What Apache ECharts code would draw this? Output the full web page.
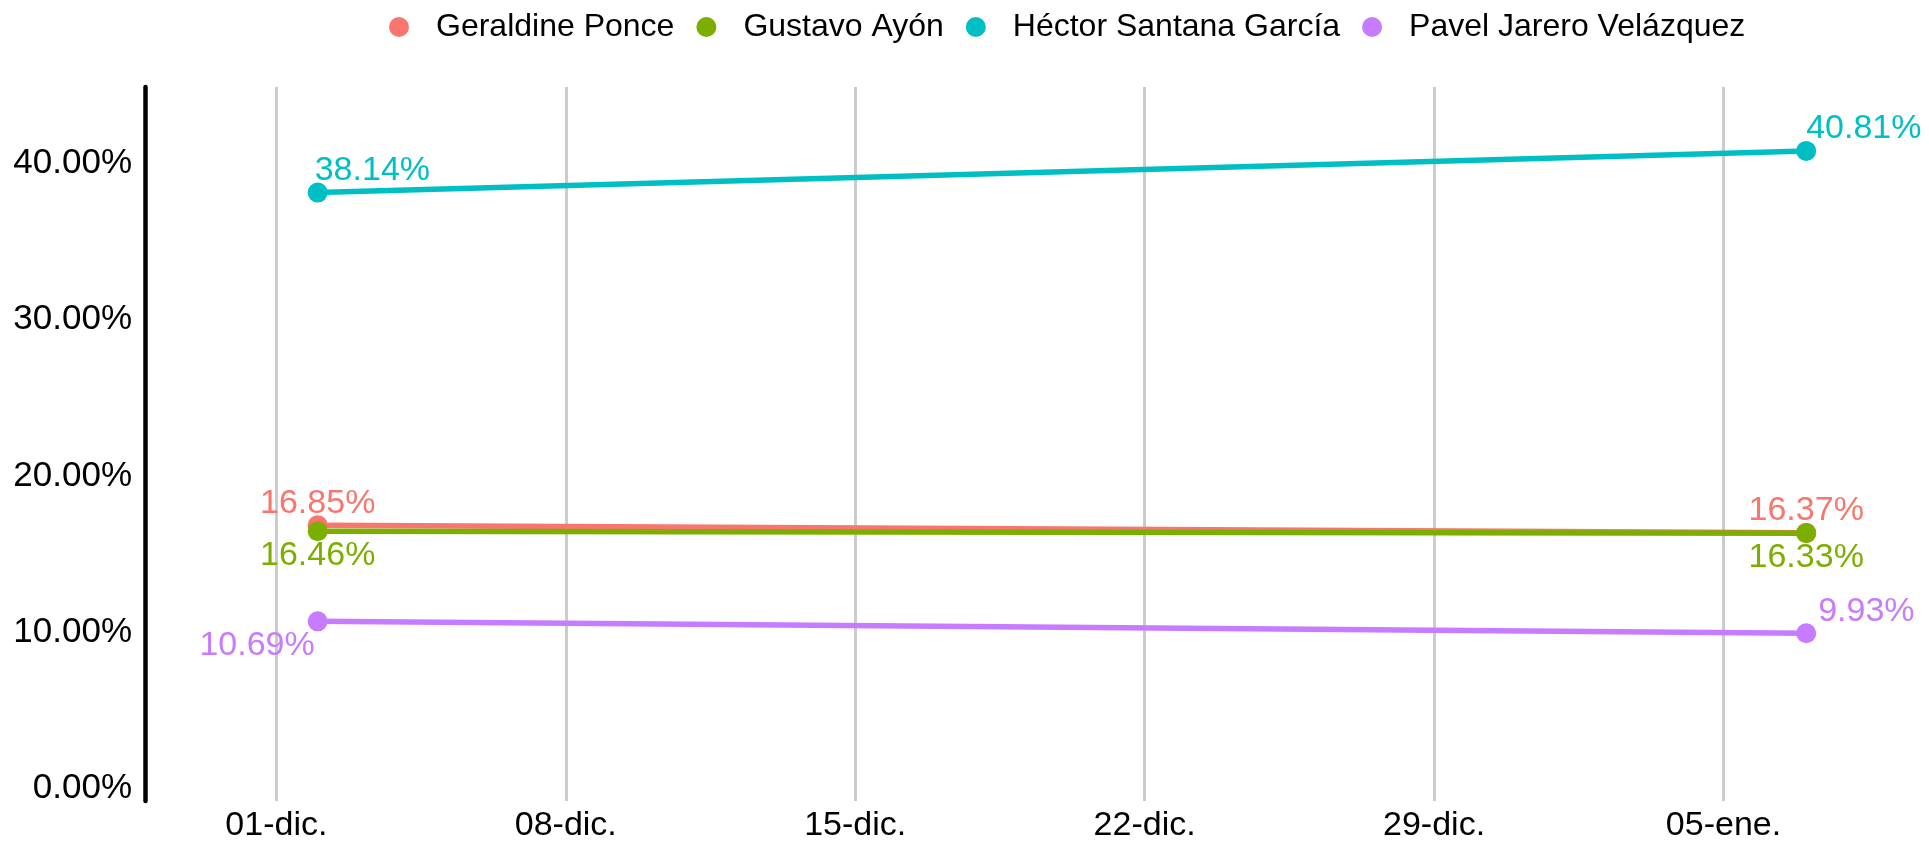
<!DOCTYPE html>
<html>
<head>
<meta charset="utf-8">
<script src="https://cdn.jsdelivr.net/npm/echarts@6/dist/echarts.min.js"></script>
<style>
html, body { margin: 0; padding: 0; background: #ffffff; }
#chart { width: 1929px; height: 843px; }
</style>
</head>
<body>
<div id="chart"></div>
<script>
// ---- data ----
const fechas = ['2022-12-02', '2023-01-07'];
const seriesNames = ['Geraldine Ponce', 'Gustavo Ayón', 'Héctor Santana García', 'Pavel Jarero Velázquez'];
const geraldine = [16.85, 16.37];
const gustavo = [16.46, 16.33];
const hector = [38.14, 40.81];
const pavel = [10.69, 9.93];
const yTicks = [0, 10, 20, 30, 40];
const mesesAbr = ['ene.', 'feb.', 'mar.', 'abr.', 'may.', 'jun.', 'jul.', 'ago.', 'sept.', 'oct.', 'nov.', 'dic.'];

// ---- styles ----
const FONT = "'Liberation Sans', Arial, Helvetica, sans-serif";
const colors = ['#F8766D', '#7CAE00', '#00BFC4', '#C77CFF'];
const DAY = 86400000;
const WEEK = 7 * DAY;
// label placement per series / point: [align, dx, dy]
const labelPlace = [
  [['center', 0, -22], ['center', 0, -22]],
  [['center', 0, 24], ['center', 0, 24]],
  [['left', -3, -22], ['left', 0, -22]],
  [['right', -3, 24], ['left', 12, -22]]
];

const ts = fechas.map(d => Date.parse(d + 'T00:00:00Z'));
const xMin = ts[0] - 4.177 * DAY;
const xMax = ts[0] + 38.97 * DAY;

const values = [geraldine, gustavo, hector, pavel];

const series = values.map((vals, si) => ({
  name: seriesNames[si],
  type: 'line',
  data: vals.map((v, i) => ({
    value: [ts[i], v],
    label: {
      show: true,
      position: 'inside',
      align: labelPlace[si][i][0],
      offset: [labelPlace[si][i][1], labelPlace[si][i][2]],
      verticalAlign: 'middle'
    }
  })),
  symbol: 'circle',
  symbolSize: 20,
  showSymbol: true,
  clip: false,
  lineStyle: { width: 5.5, color: colors[si] },
  itemStyle: { color: colors[si] },
  label: {
    formatter: p => p.value[1].toFixed(2) + '%',
    color: colors[si],
    fontSize: 34,
    fontFamily: FONT
  },
  emphasis: { disabled: true },
  z: 2 + si
}));

const chart = echarts.init(document.getElementById('chart'), null, { renderer: 'canvas' });
chart.setOption({
  animation: false,
  backgroundColor: '#ffffff',
  color: colors,
  textStyle: { fontFamily: FONT },
  legend: {
    data: seriesNames.map(n => ({ name: n, icon: 'circle' })),
    left: 384,
    top: 6,
    itemWidth: 20,
    itemHeight: 20,
    itemGap: 22,
    textStyle: { fontSize: 32, color: '#000000', fontFamily: FONT, padding: [0, 0, 0, 22] },
    selectedMode: false
  },
  grid: { left: 145, right: 0, top: 87, bottom: 41, containLabel: false },
  xAxis: {
    type: 'value',
    min: xMin,
    max: xMax,
    minInterval: WEEK,
    maxInterval: WEEK,
    axisLine: { show: false },
    axisTick: { show: false },
    axisLabel: {
      showMinLabel: false,
      showMaxLabel: false,
      fontSize: 34,
      color: '#000000',
      fontFamily: FONT,
      margin: 8,
      formatter: v => {
        const d = new Date(v);
        const dd = String(d.getUTCDate()).padStart(2, '0');
        return dd + '-' + mesesAbr[d.getUTCMonth()];
      }
    },
    splitLine: {
      show: true,
      showMinLine: false,
      showMaxLine: false,
      lineStyle: { color: '#cccccc', width: 3 }
    }
  },
  yAxis: {
    type: 'value',
    min: -0.81,
    max: 44.9,
    minInterval: 10,
    maxInterval: 10,
    axisLine: { show: true, lineStyle: { color: '#000000', width: 4.5 } },
    axisTick: { show: false },
    splitLine: { show: false },
    axisLabel: {
      showMinLabel: false,
      showMaxLabel: false,
      fontSize: 35,
      color: '#000000',
      fontFamily: FONT,
      margin: 13,
      formatter: v => (yTicks.indexOf(Math.round(v)) >= 0 && Math.abs(v - Math.round(v)) < 1e-6) ? v.toFixed(2) + '%' : ''
    }
  },
  series: series
});
</script>
</body>
</html>
